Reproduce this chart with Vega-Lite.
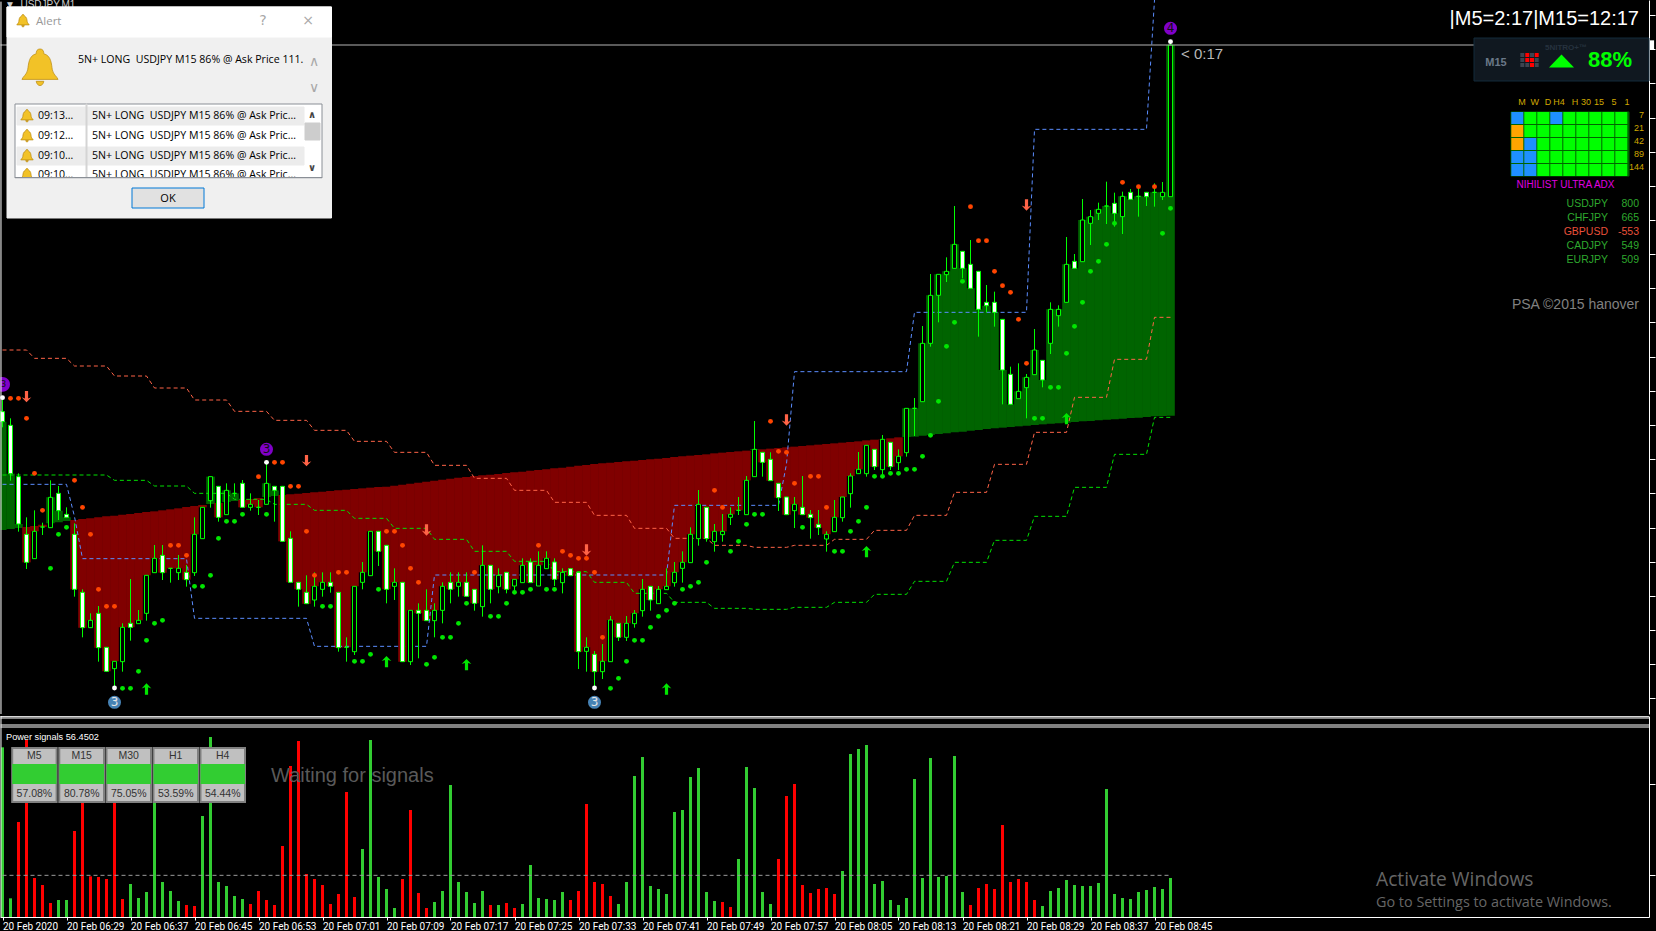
{"$schema":"https://vega.github.io/schema/vega-lite/v6.json","padding":0,"background":"#000000","spacing":0,"config":{"view":{"stroke":null},"concat":{"spacing":0},"axis":{"title":null,"grid":false},"text":{"font":"Liberation Sans"}},
"datasets":{"bars":[
{"i":0,"o":110.665,"h":110.71,"l":110.618,"c":110.635,"m":110.31,"v":509,"s":"buy"},
{"i":1,"o":110.624,"h":110.645,"l":110.458,"c":110.479,"m":110.313,"v":56,"s":"buy"},
{"i":2,"o":110.47,"h":110.48,"l":110.305,"c":110.328,"m":110.316,"v":285,"s":"sell"},
{"i":3,"o":110.297,"h":110.348,"l":110.193,"c":110.213,"m":110.319,"v":531,"s":"sell"},
{"i":4,"o":110.224,"h":110.369,"l":110.224,"c":110.306,"m":110.322,"v":117,"s":"sell"},
{"i":5,"o":110.319,"h":110.332,"l":110.295,"c":110.319,"m":110.326,"v":96,"s":"sell"},
{"i":6,"o":110.317,"h":110.459,"l":110.317,"c":110.408,"m":110.33,"v":42,"s":"sell"},
{"i":7,"o":110.42,"h":110.442,"l":110.34,"c":110.368,"m":110.333,"v":51,"s":"buy"},
{"i":8,"o":110.357,"h":110.378,"l":110.348,"c":110.348,"m":110.337,"v":51,"s":"buy"},
{"i":9,"o":110.297,"h":110.33,"l":110.11,"c":110.132,"m":110.34,"v":258,"s":"sell"},
{"i":10,"o":110.123,"h":110.132,"l":109.988,"c":110.017,"m":110.343,"v":400,"s":"sell"},
{"i":11,"o":110.017,"h":110.06,"l":110.017,"c":110.039,"m":110.345,"v":122,"s":"sell"},
{"i":12,"o":110.06,"h":110.082,"l":109.915,"c":109.957,"m":110.348,"v":120,"s":"sell"},
{"i":13,"o":109.958,"h":109.958,"l":109.885,"c":109.886,"m":110.351,"v":114,"s":"sell"},
{"i":14,"o":109.894,"h":109.916,"l":109.84,"c":109.916,"m":110.353,"v":420,"s":"sell"},
{"i":15,"o":109.915,"h":110.03,"l":109.885,"c":110.018,"m":110.356,"v":54,"s":"sell"},
{"i":16,"o":110.03,"h":110.163,"l":109.978,"c":110.018,"m":110.358,"v":99,"s":"buy"},
{"i":17,"o":110.029,"h":110.07,"l":110.029,"c":110.039,"m":110.361,"v":57,"s":"buy"},
{"i":18,"o":110.06,"h":110.174,"l":110.038,"c":110.174,"m":110.364,"v":75,"s":"buy"},
{"i":19,"o":110.182,"h":110.265,"l":110.182,"c":110.225,"m":110.366,"v":420,"s":"buy"},
{"i":20,"o":110.234,"h":110.265,"l":110.16,"c":110.182,"m":110.369,"v":105,"s":"buy"},
{"i":21,"o":110.195,"h":110.195,"l":110.152,"c":110.195,"m":110.372,"v":78,"s":"buy"},
{"i":22,"o":110.182,"h":110.235,"l":110.16,"c":110.195,"m":110.375,"v":48,"s":"buy"},
{"i":23,"o":110.183,"h":110.205,"l":110.14,"c":110.161,"m":110.379,"v":36,"s":"sell"},
{"i":24,"o":110.182,"h":110.348,"l":110.172,"c":110.297,"m":110.382,"v":33,"s":"sell"},
{"i":25,"o":110.284,"h":110.378,"l":110.284,"c":110.378,"m":110.385,"v":303,"s":"buy"},
{"i":26,"o":110.398,"h":110.47,"l":110.377,"c":110.47,"m":110.388,"v":540,"s":"buy"},
{"i":27,"o":110.441,"h":110.441,"l":110.335,"c":110.348,"m":110.391,"v":105,"s":"buy"},
{"i":28,"o":110.356,"h":110.45,"l":110.356,"c":110.429,"m":110.394,"v":93,"s":"buy"},
{"i":29,"o":110.42,"h":110.45,"l":110.41,"c":110.42,"m":110.397,"v":63,"s":"buy"},
{"i":30,"o":110.45,"h":110.46,"l":110.377,"c":110.378,"m":110.4,"v":54,"s":"buy"},
{"i":31,"o":110.378,"h":110.42,"l":110.368,"c":110.387,"m":110.403,"v":39,"s":"sell"},
{"i":32,"o":110.378,"h":110.4,"l":110.355,"c":110.378,"m":110.406,"v":78,"s":"sell"},
{"i":33,"o":110.387,"h":110.513,"l":110.387,"c":110.45,"m":110.409,"v":51,"s":"sell"},
{"i":34,"o":110.441,"h":110.441,"l":110.335,"c":110.429,"m":110.412,"v":36,"s":"sell"},
{"i":35,"o":110.441,"h":110.441,"l":110.276,"c":110.276,"m":110.415,"v":213,"s":"sell"},
{"i":36,"o":110.285,"h":110.306,"l":110.152,"c":110.153,"m":110.417,"v":453,"s":"sell"},
{"i":37,"o":110.153,"h":110.153,"l":110.08,"c":110.132,"m":110.419,"v":528,"s":"sell"},
{"i":38,"o":110.123,"h":110.174,"l":110.089,"c":110.089,"m":110.421,"v":129,"s":"sell"},
{"i":39,"o":110.1,"h":110.183,"l":110.08,"c":110.141,"m":110.423,"v":114,"s":"sell"},
{"i":40,"o":110.132,"h":110.183,"l":110.11,"c":110.153,"m":110.425,"v":96,"s":"sell"},
{"i":41,"o":110.153,"h":110.183,"l":110.122,"c":110.141,"m":110.427,"v":39,"s":"sell"},
{"i":42,"o":110.123,"h":110.123,"l":109.945,"c":109.957,"m":110.429,"v":69,"s":"sell"},
{"i":43,"o":109.958,"h":109.988,"l":109.915,"c":109.958,"m":110.431,"v":375,"s":"sell"},
{"i":44,"o":109.945,"h":110.141,"l":109.935,"c":110.141,"m":110.433,"v":60,"s":"sell"},
{"i":45,"o":110.153,"h":110.214,"l":110.132,"c":110.183,"m":110.435,"v":204,"s":"buy"},
{"i":46,"o":110.173,"h":110.306,"l":110.173,"c":110.306,"m":110.437,"v":531,"s":"buy"},
{"i":47,"o":110.306,"h":110.306,"l":110.202,"c":110.246,"m":110.439,"v":120,"s":"buy"},
{"i":48,"o":110.264,"h":110.264,"l":110.09,"c":110.132,"m":110.44,"v":84,"s":"buy"},
{"i":49,"o":110.141,"h":110.195,"l":110.1,"c":110.153,"m":110.443,"v":27,"s":"buy"},
{"i":50,"o":110.153,"h":110.153,"l":109.915,"c":109.915,"m":110.446,"v":114,"s":"sell"},
{"i":51,"o":109.915,"h":110.069,"l":109.905,"c":110.069,"m":110.449,"v":321,"s":"sell"},
{"i":52,"o":110.069,"h":110.09,"l":109.925,"c":110.06,"m":110.452,"v":72,"s":"sell"},
{"i":53,"o":110.069,"h":110.132,"l":110.038,"c":110.038,"m":110.455,"v":27,"s":"sell"},
{"i":54,"o":110.038,"h":110.09,"l":109.988,"c":110.069,"m":110.458,"v":45,"s":"buy"},
{"i":55,"o":110.069,"h":110.153,"l":110.03,"c":110.141,"m":110.461,"v":78,"s":"buy"},
{"i":56,"o":110.153,"h":110.183,"l":110.09,"c":110.132,"m":110.464,"v":396,"s":"buy"},
{"i":57,"o":110.141,"h":110.183,"l":110.11,"c":110.153,"m":110.467,"v":105,"s":"buy"},
{"i":58,"o":110.153,"h":110.183,"l":110.11,"c":110.111,"m":110.469,"v":75,"s":"buy"},
{"i":59,"o":110.132,"h":110.132,"l":110.068,"c":110.09,"m":110.472,"v":42,"s":"buy"},
{"i":60,"o":110.08,"h":110.264,"l":110.05,"c":110.204,"m":110.474,"v":78,"s":"buy"},
{"i":61,"o":110.204,"h":110.204,"l":110.09,"c":110.132,"m":110.476,"v":36,"s":"sell"},
{"i":62,"o":110.14,"h":110.195,"l":110.12,"c":110.174,"m":110.478,"v":36,"s":"buy"},
{"i":63,"o":110.183,"h":110.183,"l":110.12,"c":110.132,"m":110.481,"v":42,"s":"sell"},
{"i":64,"o":110.142,"h":110.162,"l":110.12,"c":110.162,"m":110.483,"v":27,"s":"sell"},
{"i":65,"o":110.152,"h":110.225,"l":110.152,"c":110.204,"m":110.485,"v":39,"s":"buy"},
{"i":66,"o":110.214,"h":110.225,"l":110.152,"c":110.152,"m":110.488,"v":156,"s":"buy"},
{"i":67,"o":110.142,"h":110.246,"l":110.142,"c":110.204,"m":110.49,"v":57,"s":"buy"},
{"i":68,"o":110.194,"h":110.246,"l":110.194,"c":110.225,"m":110.492,"v":54,"s":"buy"},
{"i":69,"o":110.214,"h":110.225,"l":110.142,"c":110.162,"m":110.495,"v":51,"s":"buy"},
{"i":70,"o":110.152,"h":110.195,"l":110.12,"c":110.183,"m":110.497,"v":75,"s":"buy"},
{"i":71,"o":110.194,"h":110.194,"l":110.173,"c":110.173,"m":110.5,"v":51,"s":"sell"},
{"i":72,"o":110.183,"h":110.183,"l":109.893,"c":109.945,"m":110.503,"v":78,"s":"sell"},
{"i":73,"o":109.946,"h":109.988,"l":109.885,"c":109.958,"m":110.505,"v":339,"s":"sell"},
{"i":74,"o":109.937,"h":109.947,"l":109.84,"c":109.885,"m":110.508,"v":105,"s":"sell"},
{"i":75,"o":109.885,"h":109.968,"l":109.863,"c":109.916,"m":110.51,"v":99,"s":"sell"},
{"i":76,"o":109.915,"h":110.052,"l":109.915,"c":110.04,"m":110.512,"v":63,"s":"sell"},
{"i":77,"o":110.03,"h":110.03,"l":109.977,"c":109.988,"m":110.514,"v":39,"s":"buy"},
{"i":78,"o":109.988,"h":110.052,"l":109.977,"c":110.03,"m":110.516,"v":105,"s":"buy"},
{"i":79,"o":110.029,"h":110.07,"l":110.017,"c":110.06,"m":110.518,"v":423,"s":"buy"},
{"i":80,"o":110.068,"h":110.163,"l":110.05,"c":110.132,"m":110.52,"v":480,"s":"buy"},
{"i":81,"o":110.141,"h":110.141,"l":110.068,"c":110.1,"m":110.522,"v":93,"s":"buy"},
{"i":82,"o":110.089,"h":110.142,"l":110.089,"c":110.132,"m":110.524,"v":84,"s":"buy"},
{"i":83,"o":110.131,"h":110.195,"l":110.131,"c":110.141,"m":110.526,"v":69,"s":"buy"},
{"i":84,"o":110.152,"h":110.214,"l":110.14,"c":110.183,"m":110.529,"v":315,"s":"buy"},
{"i":85,"o":110.195,"h":110.246,"l":110.152,"c":110.213,"m":110.531,"v":321,"s":"buy"},
{"i":86,"o":110.212,"h":110.318,"l":110.212,"c":110.297,"m":110.533,"v":420,"s":"buy"},
{"i":87,"o":110.284,"h":110.43,"l":110.263,"c":110.387,"m":110.535,"v":447,"s":"buy"},
{"i":88,"o":110.378,"h":110.378,"l":110.275,"c":110.284,"m":110.537,"v":75,"s":"buy"},
{"i":89,"o":110.275,"h":110.328,"l":110.245,"c":110.306,"m":110.54,"v":48,"s":"buy"},
{"i":90,"o":110.296,"h":110.358,"l":110.275,"c":110.306,"m":110.542,"v":45,"s":"sell"},
{"i":91,"o":110.348,"h":110.378,"l":110.325,"c":110.357,"m":110.544,"v":30,"s":"sell"},
{"i":92,"o":110.369,"h":110.409,"l":110.355,"c":110.369,"m":110.546,"v":174,"s":"buy"},
{"i":93,"o":110.356,"h":110.472,"l":110.356,"c":110.459,"m":110.548,"v":450,"s":"buy"},
{"i":94,"o":110.47,"h":110.637,"l":110.47,"c":110.552,"m":110.55,"v":387,"s":"buy"},
{"i":95,"o":110.543,"h":110.543,"l":110.47,"c":110.513,"m":110.552,"v":75,"s":"buy"},
{"i":96,"o":110.522,"h":110.543,"l":110.458,"c":110.458,"m":110.554,"v":39,"s":"buy"},
{"i":97,"o":110.45,"h":110.45,"l":110.367,"c":110.407,"m":110.556,"v":174,"s":"sell"},
{"i":98,"o":110.409,"h":110.409,"l":110.356,"c":110.356,"m":110.558,"v":363,"s":"sell"},
{"i":99,"o":110.368,"h":110.409,"l":110.316,"c":110.387,"m":110.56,"v":399,"s":"sell"},
{"i":100,"o":110.378,"h":110.472,"l":110.356,"c":110.356,"m":110.562,"v":96,"s":"sell"},
{"i":101,"o":110.357,"h":110.37,"l":110.284,"c":110.347,"m":110.564,"v":72,"s":"sell"},
{"i":102,"o":110.327,"h":110.37,"l":110.295,"c":110.317,"m":110.566,"v":84,"s":"sell"},
{"i":103,"o":110.283,"h":110.306,"l":110.245,"c":110.297,"m":110.568,"v":87,"s":"sell"},
{"i":104,"o":110.305,"h":110.4,"l":110.305,"c":110.348,"m":110.57,"v":69,"s":"sell"},
{"i":105,"o":110.347,"h":110.409,"l":110.335,"c":110.409,"m":110.572,"v":138,"s":"buy"},
{"i":106,"o":110.419,"h":110.48,"l":110.377,"c":110.472,"m":110.574,"v":489,"s":"buy"},
{"i":107,"o":110.479,"h":110.544,"l":110.479,"c":110.492,"m":110.576,"v":504,"s":"buy"},
{"i":108,"o":110.479,"h":110.564,"l":110.47,"c":110.564,"m":110.579,"v":516,"s":"buy"},
{"i":109,"o":110.552,"h":110.552,"l":110.49,"c":110.5,"m":110.581,"v":99,"s":"buy"},
{"i":110,"o":110.491,"h":110.595,"l":110.478,"c":110.582,"m":110.583,"v":108,"s":"buy"},
{"i":111,"o":110.573,"h":110.573,"l":110.49,"c":110.5,"m":110.585,"v":51,"s":"buy"},
{"i":112,"o":110.512,"h":110.552,"l":110.49,"c":110.531,"m":110.588,"v":36,"s":"buy"},
{"i":113,"o":110.542,"h":110.675,"l":110.53,"c":110.675,"m":110.589,"v":57,"s":"buy"},
{"i":114,"o":110.675,"h":110.706,"l":110.592,"c":110.675,"m":110.59,"v":414,"s":"buy"},
{"i":115,"o":110.695,"h":110.922,"l":110.695,"c":110.87,"m":110.593,"v":117,"s":"buy"},
{"i":116,"o":110.87,"h":111.078,"l":110.86,"c":111.014,"m":110.595,"v":477,"s":"buy"},
{"i":117,"o":111.014,"h":111.077,"l":110.933,"c":111.077,"m":110.598,"v":120,"s":"buy"},
{"i":118,"o":111.076,"h":111.128,"l":111.054,"c":111.086,"m":110.6,"v":123,"s":"buy"},
{"i":119,"o":111.095,"h":111.282,"l":111.095,"c":111.167,"m":110.603,"v":483,"s":"buy"},
{"i":120,"o":111.146,"h":111.146,"l":111.065,"c":111.095,"m":110.605,"v":75,"s":"buy"},
{"i":121,"o":111.107,"h":111.18,"l":111.035,"c":111.035,"m":110.608,"v":36,"s":"sell"},
{"i":122,"o":111.086,"h":111.086,"l":110.89,"c":110.972,"m":110.61,"v":87,"s":"sell"},
{"i":123,"o":110.993,"h":111.045,"l":110.963,"c":110.983,"m":110.613,"v":99,"s":"sell"},
{"i":124,"o":110.993,"h":111.025,"l":110.92,"c":110.963,"m":110.615,"v":84,"s":"sell"},
{"i":125,"o":110.942,"h":110.942,"l":110.687,"c":110.79,"m":110.617,"v":276,"s":"sell"},
{"i":126,"o":110.777,"h":110.8,"l":110.687,"c":110.687,"m":110.619,"v":105,"s":"sell"},
{"i":127,"o":110.704,"h":110.81,"l":110.704,"c":110.726,"m":110.621,"v":114,"s":"sell"},
{"i":128,"o":110.737,"h":110.778,"l":110.645,"c":110.768,"m":110.623,"v":105,"s":"sell"},
{"i":129,"o":110.776,"h":110.913,"l":110.776,"c":110.85,"m":110.625,"v":51,"s":"sell"},
{"i":130,"o":110.819,"h":110.819,"l":110.738,"c":110.76,"m":110.627,"v":33,"s":"buy"},
{"i":131,"o":110.87,"h":110.993,"l":110.838,"c":110.972,"m":110.629,"v":78,"s":"buy"},
{"i":132,"o":110.953,"h":110.984,"l":110.92,"c":110.972,"m":110.63,"v":87,"s":"buy"},
{"i":133,"o":110.993,"h":111.189,"l":110.993,"c":111.107,"m":110.632,"v":111,"s":"buy"},
{"i":134,"o":111.116,"h":111.138,"l":111.095,"c":111.095,"m":110.634,"v":96,"s":"buy"},
{"i":135,"o":111.115,"h":111.303,"l":111.115,"c":111.24,"m":110.636,"v":93,"s":"buy"},
{"i":136,"o":111.23,"h":111.27,"l":111.165,"c":111.25,"m":110.637,"v":93,"s":"buy"},
{"i":137,"o":111.26,"h":111.292,"l":111.24,"c":111.272,"m":110.639,"v":102,"s":"buy"},
{"i":138,"o":111.282,"h":111.355,"l":111.228,"c":111.282,"m":110.641,"v":384,"s":"buy"},
{"i":139,"o":111.29,"h":111.322,"l":111.22,"c":111.26,"m":110.642,"v":69,"s":"buy"},
{"i":140,"o":111.25,"h":111.325,"l":111.198,"c":111.311,"m":110.644,"v":57,"s":"buy"},
{"i":141,"o":111.323,"h":111.333,"l":111.302,"c":111.302,"m":110.646,"v":54,"s":"buy"},
{"i":142,"o":111.311,"h":111.34,"l":111.25,"c":111.311,"m":110.647,"v":75,"s":"buy"},
{"i":143,"o":111.323,"h":111.323,"l":111.282,"c":111.31,"m":110.649,"v":81,"s":"buy"},
{"i":144,"o":111.323,"h":111.35,"l":111.28,"c":111.323,"m":110.651,"v":90,"s":"buy"},
{"i":145,"o":111.31,"h":111.354,"l":111.3,"c":111.323,"m":110.652,"v":84,"s":"buy"},
{"i":146,"o":111.31,"h":111.775,"l":111.31,"c":111.765,"m":110.653,"v":117,"s":"buy"}
],
"channels":[
{"k":"upper","i":0,"p":110.85},{"k":"upper","i":3,"p":110.85},{"k":"upper","i":4,"p":110.825},{"k":"upper","i":8,"p":110.825},{"k":"upper","i":9,"p":110.802},{"k":"upper","i":13,"p":110.802},{"k":"upper","i":14,"p":110.772},{"k":"upper","i":18,"p":110.772},{"k":"upper","i":19,"p":110.736},{"k":"upper","i":23,"p":110.736},{"k":"upper","i":24,"p":110.7},{"k":"upper","i":28,"p":110.7},{"k":"upper","i":29,"p":110.666},{"k":"upper","i":33,"p":110.666},{"k":"upper","i":34,"p":110.639},{"k":"upper","i":38,"p":110.639},{"k":"upper","i":39,"p":110.609},{"k":"upper","i":43,"p":110.609},{"k":"upper","i":44,"p":110.576},{"k":"upper","i":48,"p":110.576},{"k":"upper","i":49,"p":110.543},{"k":"upper","i":53,"p":110.543},{"k":"upper","i":54,"p":110.504},{"k":"upper","i":58,"p":110.504},{"k":"upper","i":59,"p":110.465},{"k":"upper","i":63,"p":110.465},{"k":"upper","i":64,"p":110.429},{"k":"upper","i":68,"p":110.429},{"k":"upper","i":69,"p":110.393},{"k":"upper","i":73,"p":110.393},{"k":"upper","i":74,"p":110.354},{"k":"upper","i":78,"p":110.354},{"k":"upper","i":79,"p":110.315},{"k":"upper","i":83,"p":110.315},{"k":"upper","i":84,"p":110.285},{"k":"upper","i":88,"p":110.285},{"k":"upper","i":89,"p":110.264},{"k":"upper","i":93,"p":110.264},{"k":"upper","i":94,"p":110.258},{"k":"upper","i":98,"p":110.258},{"k":"upper","i":99,"p":110.264},{"k":"upper","i":103,"p":110.264},{"k":"upper","i":104,"p":110.282},{"k":"upper","i":108,"p":110.282},{"k":"upper","i":109,"p":110.309},{"k":"upper","i":113,"p":110.309},{"k":"upper","i":114,"p":110.354},{"k":"upper","i":118,"p":110.354},{"k":"upper","i":119,"p":110.423},{"k":"upper","i":123,"p":110.423},{"k":"upper","i":124,"p":110.507},{"k":"upper","i":128,"p":110.507},{"k":"upper","i":129,"p":110.603},{"k":"upper","i":133,"p":110.603},{"k":"upper","i":134,"p":110.708},{"k":"upper","i":138,"p":110.708},{"k":"upper","i":139,"p":110.822},{"k":"upper","i":143,"p":110.822},{"k":"upper","i":144,"p":110.948},{"k":"upper","i":146,"p":110.948},
{"k":"lower","i":0,"p":110.475},{"k":"lower","i":13,"p":110.475},{"k":"lower","i":14,"p":110.459},{"k":"lower","i":18,"p":110.459},{"k":"lower","i":19,"p":110.442},{"k":"lower","i":23,"p":110.442},{"k":"lower","i":24,"p":110.42},{"k":"lower","i":28,"p":110.42},{"k":"lower","i":29,"p":110.402},{"k":"lower","i":33,"p":110.402},{"k":"lower","i":34,"p":110.387},{"k":"lower","i":38,"p":110.387},{"k":"lower","i":39,"p":110.369},{"k":"lower","i":43,"p":110.369},{"k":"lower","i":44,"p":110.345},{"k":"lower","i":48,"p":110.345},{"k":"lower","i":49,"p":110.315},{"k":"lower","i":53,"p":110.315},{"k":"lower","i":54,"p":110.282},{"k":"lower","i":58,"p":110.282},{"k":"lower","i":59,"p":110.246},{"k":"lower","i":63,"p":110.246},{"k":"lower","i":64,"p":110.216},{"k":"lower","i":68,"p":110.216},{"k":"lower","i":69,"p":110.185},{"k":"lower","i":73,"p":110.185},{"k":"lower","i":74,"p":110.153},{"k":"lower","i":78,"p":110.153},{"k":"lower","i":79,"p":110.12},{"k":"lower","i":83,"p":110.12},{"k":"lower","i":84,"p":110.093},{"k":"lower","i":88,"p":110.093},{"k":"lower","i":89,"p":110.075},{"k":"lower","i":93,"p":110.075},{"k":"lower","i":94,"p":110.072},{"k":"lower","i":98,"p":110.072},{"k":"lower","i":99,"p":110.078},{"k":"lower","i":103,"p":110.078},{"k":"lower","i":104,"p":110.093},{"k":"lower","i":108,"p":110.093},{"k":"lower","i":109,"p":110.117},{"k":"lower","i":113,"p":110.117},{"k":"lower","i":114,"p":110.156},{"k":"lower","i":118,"p":110.156},{"k":"lower","i":119,"p":110.213},{"k":"lower","i":123,"p":110.213},{"k":"lower","i":124,"p":110.279},{"k":"lower","i":128,"p":110.279},{"k":"lower","i":129,"p":110.351},{"k":"lower","i":133,"p":110.351},{"k":"lower","i":134,"p":110.438},{"k":"lower","i":138,"p":110.438},{"k":"lower","i":139,"p":110.537},{"k":"lower","i":143,"p":110.537},{"k":"lower","i":144,"p":110.648},{"k":"lower","i":146,"p":110.648},
{"k":"mid","i":0,"p":110.447},{"k":"mid","i":8,"p":110.447},{"k":"mid","i":9,"p":110.35},{"k":"mid","i":10,"p":110.224},{"k":"mid","i":23,"p":110.224},{"k":"mid","i":24,"p":110.045},{"k":"mid","i":38,"p":110.045},{"k":"mid","i":39,"p":109.961},{"k":"mid","i":53,"p":109.961},{"k":"mid","i":54,"p":110.175},{"k":"mid","i":83,"p":110.175},{"k":"mid","i":84,"p":110.384},{"k":"mid","i":97,"p":110.384},{"k":"mid","i":98,"p":110.508},{"k":"mid","i":99,"p":110.785},{"k":"mid","i":113,"p":110.785},{"k":"mid","i":114,"p":110.963},{"k":"mid","i":128,"p":110.963},{"k":"mid","i":129,"p":111.512},{"k":"mid","i":143,"p":111.512},{"k":"mid","i":144,"p":111.9}],
"dots":[
{"k":"sell","i":1,"p":110.705},{"k":"sell","i":2,"p":110.705},{"k":"sell","i":3,"p":110.645},{"k":"sell","i":4,"p":110.48},{"k":"sell","i":5,"p":110.369},{"k":"sell","i":9,"p":110.459},{"k":"sell","i":10,"p":110.378},{"k":"sell","i":11,"p":110.297},{"k":"sell","i":12,"p":110.132},{"k":"sell","i":13,"p":110.081},{"k":"sell","i":14,"p":110.081},{"k":"sell","i":21,"p":110.264},{"k":"sell","i":22,"p":110.264},{"k":"sell","i":23,"p":110.234},{"k":"sell","i":32,"p":110.47},{"k":"sell","i":34,"p":110.513},{"k":"sell","i":35,"p":110.513},{"k":"sell","i":36,"p":110.441},{"k":"sell","i":37,"p":110.441},{"k":"sell","i":38,"p":110.306},{"k":"sell","i":39,"p":110.174},{"k":"sell","i":42,"p":110.183},{"k":"sell","i":43,"p":110.183},{"k":"sell","i":48,"p":110.306},{"k":"sell","i":49,"p":110.306},{"k":"sell","i":50,"p":110.264},{"k":"sell","i":51,"p":110.195},{"k":"sell","i":52,"p":110.153},{"k":"sell","i":59,"p":110.183},{"k":"sell","i":67,"p":110.264},{"k":"sell","i":70,"p":110.246},{"k":"sell","i":71,"p":110.234},{"k":"sell","i":72,"p":110.225},{"k":"sell","i":73,"p":110.225},{"k":"sell","i":74,"p":110.183},{"k":"sell","i":75,"p":109.988},{"k":"sell","i":89,"p":110.429},{"k":"sell","i":90,"p":110.378},{"k":"sell","i":96,"p":110.636},{"k":"sell","i":97,"p":110.546},{"k":"sell","i":98,"p":110.543},{"k":"sell","i":99,"p":110.45},{"k":"sell","i":101,"p":110.471},{"k":"sell","i":102,"p":110.471},{"k":"sell","i":103,"p":110.378},{"k":"sell","i":121,"p":111.28},{"k":"sell","i":122,"p":111.178},{"k":"sell","i":123,"p":111.178},{"k":"sell","i":124,"p":111.086},{"k":"sell","i":125,"p":111.043},{"k":"sell","i":126,"p":111.023},{"k":"sell","i":127,"p":110.942},{"k":"sell","i":128,"p":110.81},{"k":"sell","i":140,"p":111.353},{"k":"sell","i":142,"p":111.34},{"k":"sell","i":144,"p":111.34},
{"k":"buy","i":6,"p":110.195},{"k":"buy","i":7,"p":110.297},{"k":"buy","i":8,"p":110.318},{"k":"buy","i":15,"p":109.835},{"k":"buy","i":16,"p":109.835},{"k":"buy","i":17,"p":109.886},{"k":"buy","i":18,"p":109.979},{"k":"buy","i":19,"p":110.03},{"k":"buy","i":20,"p":110.039},{"k":"buy","i":24,"p":110.141},{"k":"buy","i":25,"p":110.141},{"k":"buy","i":26,"p":110.174},{"k":"buy","i":27,"p":110.285},{"k":"buy","i":28,"p":110.336},{"k":"buy","i":29,"p":110.336},{"k":"buy","i":30,"p":110.357},{"k":"buy","i":33,"p":110.357},{"k":"buy","i":40,"p":110.081},{"k":"buy","i":41,"p":110.081},{"k":"buy","i":44,"p":109.916},{"k":"buy","i":45,"p":109.916},{"k":"buy","i":46,"p":109.937},{"k":"buy","i":47,"p":110.132},{"k":"buy","i":53,"p":109.907},{"k":"buy","i":54,"p":109.928},{"k":"buy","i":55,"p":109.988},{"k":"buy","i":56,"p":109.988},{"k":"buy","i":57,"p":110.03},{"k":"buy","i":58,"p":110.09},{"k":"buy","i":61,"p":110.051},{"k":"buy","i":62,"p":110.051},{"k":"buy","i":63,"p":110.09},{"k":"buy","i":64,"p":110.123},{"k":"buy","i":65,"p":110.123},{"k":"buy","i":66,"p":110.132},{"k":"buy","i":68,"p":110.132},{"k":"buy","i":69,"p":110.132},{"k":"buy","i":76,"p":109.835},{"k":"buy","i":77,"p":109.865},{"k":"buy","i":78,"p":109.916},{"k":"buy","i":79,"p":109.979},{"k":"buy","i":80,"p":109.979},{"k":"buy","i":81,"p":110.018},{"k":"buy","i":82,"p":110.051},{"k":"buy","i":83,"p":110.069},{"k":"buy","i":84,"p":110.09},{"k":"buy","i":85,"p":110.132},{"k":"buy","i":86,"p":110.141},{"k":"buy","i":87,"p":110.153},{"k":"buy","i":88,"p":110.213},{"k":"buy","i":91,"p":110.246},{"k":"buy","i":92,"p":110.276},{"k":"buy","i":93,"p":110.327},{"k":"buy","i":94,"p":110.357},{"k":"buy","i":95,"p":110.357},{"k":"buy","i":100,"p":110.318},{"k":"buy","i":104,"p":110.246},{"k":"buy","i":105,"p":110.246},{"k":"buy","i":106,"p":110.306},{"k":"buy","i":107,"p":110.336},{"k":"buy","i":108,"p":110.378},{"k":"buy","i":109,"p":110.471},{"k":"buy","i":110,"p":110.471},{"k":"buy","i":111,"p":110.48},{"k":"buy","i":112,"p":110.48},{"k":"buy","i":113,"p":110.492},{"k":"buy","i":114,"p":110.492},{"k":"buy","i":115,"p":110.531},{"k":"buy","i":116,"p":110.594},{"k":"buy","i":117,"p":110.696},{"k":"buy","i":118,"p":110.861},{"k":"buy","i":119,"p":110.933},{"k":"buy","i":120,"p":111.056},{"k":"buy","i":129,"p":110.645},{"k":"buy","i":130,"p":110.645},{"k":"buy","i":131,"p":110.738},{"k":"buy","i":132,"p":110.738},{"k":"buy","i":133,"p":110.84},{"k":"buy","i":134,"p":110.921},{"k":"buy","i":135,"p":110.993},{"k":"buy","i":136,"p":111.086},{"k":"buy","i":137,"p":111.116},{"k":"buy","i":138,"p":111.167},{"k":"buy","i":139,"p":111.23},{"k":"buy","i":145,"p":111.2},{"k":"buy","i":146,"p":111.275},
{"k":"peak","i":0,"p":110.707},{"k":"peak","i":14,"p":109.836},{"k":"peak","i":33,"p":110.513},{"k":"peak","i":74,"p":109.836},{"k":"peak","i":146,"p":111.775}],
"cells":[
{"k":"b","i":189.35,"p":111.546},{"k":"g","i":190.975,"p":111.546},{"k":"g","i":192.6,"p":111.546},{"k":"b","i":194.225,"p":111.546},{"k":"g","i":195.85,"p":111.546},{"k":"g","i":197.475,"p":111.546},{"k":"g","i":199.1,"p":111.546},{"k":"g","i":200.725,"p":111.546},{"k":"g","i":202.35,"p":111.546},
{"k":"o","i":189.35,"p":111.507},{"k":"g","i":190.975,"p":111.507},{"k":"g","i":192.6,"p":111.507},{"k":"g","i":194.225,"p":111.507},{"k":"g","i":195.85,"p":111.507},{"k":"g","i":197.475,"p":111.507},{"k":"g","i":199.1,"p":111.507},{"k":"g","i":200.725,"p":111.507},{"k":"g","i":202.35,"p":111.507},
{"k":"o","i":189.35,"p":111.468},{"k":"b","i":190.975,"p":111.468},{"k":"g","i":192.6,"p":111.468},{"k":"g","i":194.225,"p":111.468},{"k":"g","i":195.85,"p":111.468},{"k":"g","i":197.475,"p":111.468},{"k":"g","i":199.1,"p":111.468},{"k":"g","i":200.725,"p":111.468},{"k":"g","i":202.35,"p":111.468},
{"k":"b","i":189.35,"p":111.429},{"k":"b","i":190.975,"p":111.429},{"k":"g","i":192.6,"p":111.429},{"k":"g","i":194.225,"p":111.429},{"k":"g","i":195.85,"p":111.429},{"k":"g","i":197.475,"p":111.429},{"k":"g","i":199.1,"p":111.429},{"k":"g","i":200.725,"p":111.429},{"k":"g","i":202.35,"p":111.429},
{"k":"b","i":189.35,"p":111.39},{"k":"b","i":190.975,"p":111.39},{"k":"g","i":192.6,"p":111.39},{"k":"g","i":194.225,"p":111.39},{"k":"g","i":195.85,"p":111.39},{"k":"g","i":197.475,"p":111.39},{"k":"g","i":199.1,"p":111.39},{"k":"g","i":200.725,"p":111.39},{"k":"g","i":202.35,"p":111.39}]},
"vconcat":[
{"width":1649,"height":714,"data":{"name":"bars"},
"encoding":{"x":{"field":"i","type":"quantitative","scale":{"domain":[-0.3125,205.8125],"nice":false,"zero":false,"padding":0},"axis":null},"y":{"field":"p","type":"quantitative","scale":{"domain":[109.758,111.9],"nice":false,"zero":false},"axis":{"orient":"right","labels":false,"domainColor":"#ffffff","tickColor":"#ffffff","tickSize":6,"values":[111.855,111.7525,111.65,111.5475,111.445,111.3425,111.24,111.1375,111.035,110.9325,110.83,110.7275,110.625,110.5225,110.42,110.3175,110.215,110.1125,110.01,109.9075,109.805]}}},
"resolve":{"scale":{"color":"independent"},"legend":{"color":"independent"}},
"layer":[
{"transform":[{"filter":"datum.i>0"}],"mark":{"type":"bar","clip":true},"encoding":{"y":{"field":"m","type":"quantitative"},"y2":{"field":"c"},"size":{"value":8.6},"fill":{"condition":{"test":"datum.c>datum.m","value":"#006400"},"value":"#800000"}}},
{"data":{"values":[{"i":-0.25,"i2":0.5,"p":110.635,"p2":110.31}]},"mark":{"type":"rect","fill":"#006400"},"encoding":{"x2":{"field":"i2"},"y2":{"field":"p2"}}},
{"data":{"name":"channels"},"mark":{"type":"line","clip":true,"strokeWidth":1,"strokeDash":[4,3]},"encoding":{"color":{"field":"k","type":"nominal","legend":null,"scale":{"domain":["upper","mid","lower"],"range":["#ff6347","#5b8dff","#00e000"]}}}},
{"mark":{"type":"rule","clip":true,"color":"#00ff00","strokeWidth":1},"encoding":{"y":{"field":"h","type":"quantitative"},"y2":{"field":"l"}}},
{"mark":{"type":"bar","clip":true,"stroke":"#00ff00","strokeWidth":1},"encoding":{"y":{"field":"o","type":"quantitative"},"y2":{"field":"c"},"size":{"value":4},"fill":{"condition":{"test":"datum.o>datum.c","value":"#ffffff"},"value":"#000000"}}},
{"data":{"name":"dots"},"mark":{"type":"circle","clip":true,"opacity":1,"size":24},"encoding":{"color":{"field":"k","type":"nominal","legend":null,"scale":{"domain":["sell","buy","peak"],"range":["#ff4500","#00e600","#ffffff"]}}}},
{"data":{"values":[{"i":18,"p":109.833},{"i":48,"p":109.915},{"i":58,"p":109.906},{"i":83,"p":109.833},{"i":108,"p":110.245},{"i":133,"p":110.644}]},"mark":{"type":"point","filled":true,"opacity":1,"color":"#00e600","size":130,"shape":"M0,-1L0.85,-0.1L0.28,-0.3L0.28,1L-0.28,1L-0.28,-0.3L-0.85,-0.1Z"}},
{"data":{"values":[{"i":3,"p":110.71},{"i":38,"p":110.518},{"i":53,"p":110.31},{"i":73,"p":110.25},{"i":98,"p":110.64},{"i":128,"p":111.285}]},"mark":{"type":"point","filled":true,"opacity":1,"color":"#ff6347","size":130,"shape":"M0,1L0.85,0.1L0.28,0.3L0.28,-1L-0.28,-1L-0.28,0.3L-0.85,0.1Z"}},
{"data":{"values":[{"i":33,"p":110.552},{"i":146,"p":111.815}]},"mark":{"type":"circle","opacity":1,"size":170,"color":"#8000c8"}},
{"data":{"values":[{"i":0,"p":110.747}]},"mark":{"type":"point","filled":true,"opacity":1,"size":220,"color":"#8000c8","shape":"M-.3,-.95A1,1 0 1 1 -.3,.95Z"}},
{"data":{"values":[{"i":14,"p":109.793},{"i":74,"p":109.793}]},"mark":{"type":"circle","opacity":1,"size":170,"color":"#4682b4"}},
{"data":{"values":[{"i":33,"p":110.552,"t":"3"},{"i":146,"p":111.815,"t":"4"}]},"mark":{"type":"text","fontSize":12,"font":"DejaVu Sans","baseline":"middle","color":"#101010"},"encoding":{"text":{"field":"t"}}},
{"data":{"values":[{"i":0.1,"p":110.747,"t":"3"}]},"mark":{"type":"text","fontSize":9,"font":"DejaVu Sans","baseline":"middle","color":"#101010"},"encoding":{"text":{"field":"t"}}},
{"data":{"values":[{"i":14,"p":109.793,"t":"3"},{"i":74,"p":109.793,"t":"3"}]},"mark":{"type":"text","fontSize":12,"font":"DejaVu Sans","baseline":"middle","color":"#e6e6e6"},"encoding":{"text":{"field":"t"}}},
{"mark":{"type":"rule","color":"#b4b4b4","strokeWidth":1},"data":{"values":[{"i":-0.25,"i2":205.8125,"p":111.765}]},"encoding":{"x2":{"field":"i2"}}},
{"mark":{"type":"rule","color":"#ffffff","strokeWidth":1},"data":{"values":[{"i":-0.19,"p":109.758,"p2":111.895}]},"encoding":{"y2":{"field":"p2"}}},
{"mark":{"type":"rect","color":"#ffffff"},"data":{"values":[{"i":205.9,"i2":206.45,"p":111.779,"p2":111.75}]},"encoding":{"x2":{"field":"i2"},"y2":{"field":"p2"}}},
{"data":{"values":[{"t":"\u25bc\u00a0\u00a0USDJPY,M1","i":0.3125,"p":111.9}]},"mark":{"type":"text","align":"left","baseline":"top","fontSize":10,"color":"#cccccc"},"encoding":{"text":{"field":"t"}}},
{"data":{"values":[
{"k":"window","i":0.5625,"i2":41.125,"p":111.879,"p2":111.246},
{"k":"title","i":0.5625,"i2":41.125,"p":111.879,"p2":111.789},
{"k":"list","i":1.5625,"i2":39.9375,"p":111.588,"p2":111.366},
{"k":"shade","i":1.8125,"i2":37.6875,"p":111.579,"p2":111.525},
{"k":"shade","i":1.8125,"i2":37.6875,"p":111.459,"p2":111.405},
{"k":"divider","i":10.4375,"i2":10.5625,"p":111.588,"p2":111.369},
{"k":"thumb","i":37.8125,"i2":39.6875,"p":111.531,"p2":111.48},
{"k":"button","i":16.1875,"i2":25.1875,"p":111.336,"p2":111.276},
{"k":"signal","i":183.9375,"i2":205.8125,"p":111.786,"p2":111.657},
{"k":"matrix","i":188.5625,"i2":203.3125,"p":111.564,"p2":111.372}]},
"mark":{"type":"rect","strokeWidth":1},"encoding":{"x2":{"field":"i2"},"y2":{"field":"p2"},
"fill":{"field":"k","type":"nominal","legend":null,"scale":{"domain":["window","title","list","shade","divider","thumb","button","signal","matrix"],"range":["#f0f0f0","#ffffff","#ffffff","#ececec","#d4d4d4","#cdcdcd","#e1e1e1","#101820","#006400"]}},
"stroke":{"field":"k","type":"nominal","legend":null,"scale":{"domain":["window","title","list","shade","divider","thumb","button","signal","matrix"],"range":["#f0f0f0","#ffffff","#8a8f96","#ececec","#d4d4d4","#cdcdcd","#0078d7","#122a3a","#006400"]}}}},
{"data":{"name":"cells"},"mark":{"type":"point","shape":"square","filled":true,"opacity":1,"size":144},"encoding":{"color":{"field":"k","type":"nominal","legend":null,"scale":{"domain":["g","b","o"],"range":["#00ff00","#1e90ff","#ffa500"]}}}},
{"data":{"values":[{"k":"d","i":189.975,"p":111.735},{"k":"r","i":190.6,"p":111.735},{"k":"d","i":191.1875,"p":111.735},{"k":"r","i":191.775,"p":111.735},{"k":"d","i":189.975,"p":111.72},{"k":"r","i":190.6,"p":111.72},{"k":"r","i":191.1875,"p":111.72},{"k":"d","i":191.775,"p":111.72},{"k":"d","i":189.975,"p":111.705},{"k":"d","i":190.6,"p":111.705},{"k":"r","i":191.1875,"p":111.705},{"k":"d","i":191.775,"p":111.705}]},"mark":{"type":"point","shape":"square","filled":true,"opacity":1,"size":16},"encoding":{"color":{"field":"k","type":"nominal","legend":null,"scale":{"domain":["d","r"],"range":["#3c4450","#ff0000"]}}}},
{"data":{"values":[{"i":194.875,"p":111.717}]},"mark":{"type":"point","filled":true,"opacity":1,"color":"#00ff00","size":625,"shape":"M0,-0.52L1,0.52L-1,0.52Z"}},
{"data":{"values":[{"i":4.6875,"p":111.696,"b":"big"},{"i":2.5625,"p":111.837,"b":"small"},{"i":3.0625,"p":111.552,"b":"small"},{"i":3.0625,"p":111.492,"b":"small"},{"i":3.0625,"p":111.432,"b":"small"},{"i":3.0625,"p":111.375,"b":"small"}]},"mark":{"type":"point","filled":true,"opacity":1,"color":"#f2c227","stroke":"#b8860b","strokeWidth":0.7,"shape":"M0,-1C.2,-1 .2,-.8 .2,-.75C.6,-.65 .6,-.2 .65,.1C.7,.35 .9,.45 .95,.6L-.95,.6C-.9,.45 -.7,.35 -.65,.1C-.6,-.2 -.6,-.65 -.2,-.75C-.2,-.8 -.2,-1 0,-1ZM-.2,.7L.2,.7C.15,1 -.15,1 -.2,.7Z"},"encoding":{"size":{"field":"b","type":"nominal","legend":null,"scale":{"domain":["big","small"],"range":[1444,169]}}}},
{"data":{"values":[
{"t":"5N+\u00a0LONG\u00a0\u00a0USDJPY M15 86% @ Ask Price 111.","i":9.4375,"p":111.72},
{"t":"09:13\u2026","i":4.4375,"p":111.552},{"t":"09:12\u2026","i":4.4375,"p":111.492},{"t":"09:10\u2026","i":4.4375,"p":111.432},{"t":"09:10\u2026","i":4.4375,"p":111.375},
{"t":"5N+\u00a0LONG\u00a0\u00a0USDJPY M15 86% @ Ask Pric\u2026","i":11.1875,"p":111.552},{"t":"5N+\u00a0LONG\u00a0\u00a0USDJPY M15 86% @ Ask Pric\u2026","i":11.1875,"p":111.492},{"t":"5N+\u00a0LONG\u00a0\u00a0USDJPY M15 86% @ Ask Pric\u2026","i":11.1875,"p":111.432},{"t":"5N+\u00a0LONG\u00a0\u00a0USDJPY M15 86% @ Ask Pric\u2026","i":11.1875,"p":111.375}]},
"mark":{"type":"text","align":"left","baseline":"middle","font":"Open Sans","fontSize":10.6,"color":"#000000"},"encoding":{"text":{"field":"t"}}},
{"data":{"values":[{"k":"cover","i":1.5625,"i2":39.9375,"p":111.369,"p2":111.339},{"k":"edge","i":1.5625,"i2":39.9375,"p":111.369,"p2":111.3655}]},"mark":{"type":"rect"},"encoding":{"x2":{"field":"i2"},"y2":{"field":"p2"},"color":{"field":"k","type":"nominal","legend":null,"scale":{"domain":["cover","edge"],"range":["#f0f0f0","#8a8f96"]}}}},
{"data":{"values":[{"t":"Alert","i":4.1875,"p":111.834}]},"mark":{"type":"text","align":"left","baseline":"middle","font":"Open Sans","fontSize":11.5,"color":"#999999"},"encoding":{"text":{"field":"t"}}},
{"data":{"values":[{"t":"?","i":32.5625,"p":111.837},{"t":"\u00d7","i":38.1875,"p":111.837},{"t":"\u2227","i":38.9375,"p":111.714},{"t":"\u2228","i":38.9375,"p":111.636}]},"mark":{"type":"text","baseline":"middle","font":"DejaVu Sans","fontSize":14,"color":"#a8a8a8"},"encoding":{"text":{"field":"t"}}},
{"data":{"values":[{"t":"\u2227","i":38.6875,"p":111.555},{"t":"\u2228","i":38.6875,"p":111.396}]},"mark":{"type":"text","baseline":"middle","font":"DejaVu Sans","fontSize":10,"fontWeight":"bold","color":"#444444"},"encoding":{"text":{"field":"t"}}},
{"data":{"values":[{"t":"OK","i":20.6875,"p":111.303}]},"mark":{"type":"text","baseline":"middle","font":"Open Sans","fontSize":11,"color":"#000000"},"encoding":{"text":{"field":"t"}}},
{"data":{"values":[{"t":"< 0:17","i":147.3125,"p":111.738}]},"mark":{"type":"text","align":"left","baseline":"middle","fontSize":15,"color":"#b8b8b8"},"encoding":{"text":{"field":"t"}}},
{"data":{"values":[{"t":"|M5=2:17|M15=12:17","i":204.5625,"p":111.843}]},"mark":{"type":"text","align":"right","baseline":"middle","fontSize":20,"color":"#ffffff"},"encoding":{"text":{"field":"t"}}},
{"data":{"values":[{"t":"M15","i":186.6875,"p":111.711}]},"mark":{"type":"text","baseline":"middle","fontSize":11,"fontWeight":"bold","color":"#6a7888"},"encoding":{"text":{"field":"t"}}},
{"data":{"values":[{"t":"5NITRO+\u2122","i":195.4375,"p":111.756}]},"mark":{"type":"text","baseline":"middle","fontSize":8,"fontWeight":"bold","color":"#26323e"},"encoding":{"text":{"field":"t"}}},
{"data":{"values":[{"t":"88%","i":198.1875,"p":111.72}]},"mark":{"type":"text","align":"left","baseline":"middle","fontSize":22,"fontWeight":"bold","color":"#00ff00"},"encoding":{"text":{"field":"t"}}},
{"data":{"values":[{"t":"M","i":189.9375,"p":111.594},{"t":"W","i":191.525,"p":111.594},{"t":"D","i":193.1875,"p":111.594},{"t":"H4","i":194.5625,"p":111.594},{"t":"H","i":196.5625,"p":111.594},{"t":"30","i":197.9375,"p":111.594},{"t":"15","i":199.5625,"p":111.594},{"t":"5","i":201.4375,"p":111.594},{"t":"1","i":203.0625,"p":111.594}]},"mark":{"type":"text","baseline":"middle","fontSize":9,"color":"#d0a800"},"encoding":{"text":{"field":"t"}}},
{"data":{"values":[{"t":"7","i":205.1875,"p":111.555},{"t":"21","i":205.1875,"p":111.516},{"t":"42","i":205.1875,"p":111.477},{"t":"89","i":205.1875,"p":111.438},{"t":"144","i":205.1875,"p":111.399}]},"mark":{"type":"text","align":"right","baseline":"middle","fontSize":9,"color":"#d0a800"},"encoding":{"text":{"field":"t"}}},
{"data":{"values":[{"t":"NIHILIST ULTRA ADX","i":195.375,"p":111.3465}]},"mark":{"type":"text","baseline":"middle","fontSize":10,"color":"#e000e0"},"encoding":{"text":{"field":"t"}}},
{"data":{"values":[{"t":"USDJPY","k":"up","i":200.6875,"p":111.288},{"t":"800","k":"up","i":204.5625,"p":111.288},{"t":"CHFJPY","k":"up","i":200.6875,"p":111.246},{"t":"665","k":"up","i":204.5625,"p":111.246},{"t":"GBPUSD","k":"down","i":200.6875,"p":111.204},{"t":"-553","k":"down","i":204.5625,"p":111.204},{"t":"CADJPY","k":"up","i":200.6875,"p":111.162},{"t":"549","k":"up","i":204.5625,"p":111.162},{"t":"EURJPY","k":"up","i":200.6875,"p":111.12},{"t":"509","k":"up","i":204.5625,"p":111.12}]},"mark":{"type":"text","align":"right","baseline":"middle","fontSize":10.5},"encoding":{"text":{"field":"t"},"color":{"field":"k","type":"nominal","legend":null,"scale":{"domain":["up","down"],"range":["#2ea82e","#e8503a"]}}}},
{"data":{"values":[{"t":"PSA \u00a92015 hanover","i":204.5625,"p":110.985}]},"mark":{"type":"text","align":"right","baseline":"middle","fontSize":14,"color":"#808080"},"encoding":{"text":{"field":"t"}}}
]},
{"width":1649,"height":201,"data":{"name":"bars"},
"encoding":{"x":{"field":"i","type":"quantitative","scale":{"domain":[-0.3125,205.8125],"nice":false,"zero":false,"padding":0},"axis":{"orient":"bottom","values":[0,8,16,24,32,40,48,56,64,72,80,88,96,104,112,120,128,136,144],"labelExpr":"datum.value==0?'20 Feb 2020':'20 Feb '+timeFormat(datetime(2020,1,20,6,21+datum.value),'%H:%M')","labelAlign":"left","labelColor":"#ffffff","labelFont":"Roboto","labelFontSize":10,"labelPadding":1,"labelOverlap":false,"labelBound":false,"labelFlush":false,"tickColor":"#ffffff","tickSize":3,"domainColor":"#ffffff"}},"y":{"field":"v","type":"quantitative","scale":{"domain":[0,603],"nice":false},"axis":{"orient":"right","labels":false,"domainColor":"#ffffff","tickColor":"#ffffff","tickSize":6,"values":[125,400]}}},
"layer":[
{"mark":{"type":"bar","clip":true},"encoding":{"size":{"value":3},"color":{"field":"s","type":"nominal","legend":null,"scale":{"domain":["buy","sell"],"range":["#32cd32","#ff0000"]}}}},
{"mark":{"type":"rule","color":"#9a9a9a","strokeWidth":1,"strokeDash":[4,3]},"data":{"values":[{"v":125,"i":0,"i2":146}]},"encoding":{"x2":{"field":"i2"}}},
{"mark":{"type":"rule","color":"#ffffff","strokeWidth":1},"data":{"values":[{"v":601,"i":-0.25,"i2":205.8125},{"v":597,"i":-0.25,"i2":205.8125},{"v":576,"i":-0.25,"i2":205.8125},{"v":570,"i":-0.25,"i2":205.8125}]},"encoding":{"x2":{"field":"i2"}}},
{"mark":{"type":"rule","color":"#ffffff","strokeWidth":1},"data":{"values":[{"i":-0.19,"v":0,"v2":603}]},"encoding":{"y2":{"field":"v2"}}},
{"data":{"values":[{"i":1.2125,"i2":6.7625,"v":507,"v2":345},{"i":7.1,"i2":12.6875,"v":507,"v2":345},{"i":13,"i2":18.5625,"v":507,"v2":345},{"i":18.875,"i2":24.4375,"v":507,"v2":345},{"i":24.75,"i2":30.3125,"v":507,"v2":345}]},"mark":{"type":"rect","fill":"#c0c0c0","stroke":"#808080","strokeWidth":2},"encoding":{"x2":{"field":"i2"},"y2":{"field":"v2"}}},
{"data":{"values":[{"i":1.2125,"i2":6.7625,"v":459,"v2":399},{"i":7.1,"i2":12.6875,"v":459,"v2":399},{"i":13,"i2":18.5625,"v":459,"v2":399},{"i":18.875,"i2":24.4375,"v":459,"v2":399},{"i":24.75,"i2":30.3125,"v":459,"v2":399}]},"mark":{"type":"rect","fill":"#32cd32"},"encoding":{"x2":{"field":"i2"},"y2":{"field":"v2"}}},
{"data":{"values":[{"t":"M5","i":3.9875,"v":483},{"t":"M15","i":9.9,"v":483},{"t":"M30","i":15.78,"v":483},{"t":"H1","i":21.656,"v":483},{"t":"H4","i":27.53,"v":483},{"t":"57.08%","i":3.9875,"v":369},{"t":"80.78%","i":9.9,"v":369},{"t":"75.05%","i":15.78,"v":369},{"t":"53.59%","i":21.656,"v":369},{"t":"54.44%","i":27.53,"v":369}]},"mark":{"type":"text","baseline":"middle","fontSize":10.5,"color":"#333333"},"encoding":{"text":{"field":"t"}}},
{"data":{"values":[{"t":"Power signals 56.4502","i":0.4375,"v":540}]},"mark":{"type":"text","align":"left","baseline":"middle","fontSize":9.2,"color":"#ffffff"},"encoding":{"text":{"field":"t"}}},
{"data":{"values":[{"t":"Waiting for signals","i":33.5625,"v":423}]},"mark":{"type":"text","align":"left","baseline":"middle","fontSize":20,"color":"#5a5a5a"},"encoding":{"text":{"field":"t"}}},
{"data":{"values":[{"t":"Activate Windows","i":171.6875,"v":111}]},"mark":{"type":"text","align":"left","baseline":"middle","font":"Open Sans","fontSize":19.2,"color":"#666666"},"encoding":{"text":{"field":"t"}}},
{"data":{"values":[{"t":"Go to Settings to activate Windows.","i":171.6875,"v":42}]},"mark":{"type":"text","align":"left","baseline":"middle","font":"Open Sans","fontSize":14.4,"color":"#666666"},"encoding":{"text":{"field":"t"}}}
]}
]}
